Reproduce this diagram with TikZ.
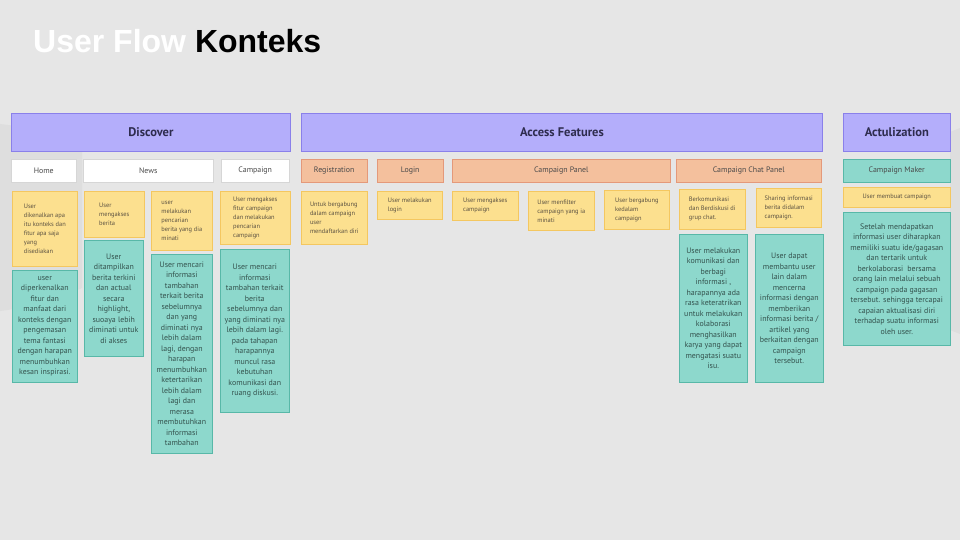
\documentclass[tikz,border=0pt]{standalone}
\usepackage{fontspec}
\setmainfont{PT Sans}
\newfontfamily\titlefont{Liberation Sans}
\usetikzlibrary{positioning}

\definecolor{bgcol}{HTML}{E6E6E6}
\definecolor{bgshade}{HTML}{DEDEDE}
\definecolor{hdrfill}{HTML}{B4AEFB}
\definecolor{hdrline}{HTML}{8A80EA}
\definecolor{hdrtext}{HTML}{2E2C4E}
\definecolor{tabline}{HTML}{D6D6D6}
\definecolor{tabtext}{HTML}{4A4A4A}
\definecolor{featfill}{HTML}{F4C09D}
\definecolor{featline}{HTML}{E4997A}
\definecolor{notefill}{HTML}{FCE08F}
\definecolor{noteline}{HTML}{F4C760}
\definecolor{notetext}{HTML}{5C5242}
\definecolor{descfill}{HTML}{8DD8CC}
\definecolor{descline}{HTML}{58B8A8}
\definecolor{desctext}{HTML}{34524D}

\begin{document}
\begin{tikzpicture}[
  x=1pt, y=-1pt,
  hdr/.style={draw=hdrline, fill=hdrfill, line width=0.8pt, anchor=north west, inner sep=0pt, minimum height=38, font=\fontsize{12.5}{14}\selectfont\bfseries, text=hdrtext},
  tab/.style={draw=tabline, fill=white, line width=0.5pt, anchor=north west, inner sep=0pt, minimum height=23, font=\fontsize{7.9}{9}\selectfont, text=tabtext},
  feat/.style={tab, draw=featline, fill=featfill},
  maker/.style={tab, draw=descline, fill=descfill},
  note/.style={draw=noteline, fill=notefill, line width=0.6pt, anchor=north west, inner sep=0pt, align=left, font=\fontsize{6.4}{9}\selectfont, text=notetext},
  desc/.style={draw=descline, fill=descfill, line width=0.6pt, anchor=north west, inner sep=0pt, align=center, font=\fontsize{7.9}{10.5}\selectfont, text=desctext}
]
\fill[bgcol] (0,0) rectangle (960,540);
\useasboundingbox (0,0) rectangle (960,540);
% faint slide decoration
\fill[bgshade] (0,124) .. controls (35,128) and (70,138) .. (82,150) -- (82,288) .. controls (55,300) and (25,308) .. (0,311) -- cycle;
\fill[bgshade] (950,132) -- (960,128) -- (960,334) -- (950,330) -- cycle;

% --- title ---
\node[anchor=base west, inner sep=0pt, font=\titlefont\fontsize{32}{36}\selectfont\bfseries] (title) at (33,53)
  {\textcolor{white}{User Flow} Konteks};

% --- phase headers ---
\node[hdr, minimum width=279] (discover) at (11,113)  {Discover};
\node[hdr, minimum width=521] (access)   at (301,113) {Access Features};
\node[hdr, minimum width=107] (actual)   at (843,113) {Actulization};

% --- pages ---
\node[tab, minimum width=65]   (home)      at (11,159)  {Home};
\node[tab, minimum width=130]  (news)      at (83,159)  {News};
\node[tab, minimum width=68]   (campaign)  at (221,159) {Campaign};
\node[feat, minimum width=66]  (regist)    at (301,159) {Registration};
\node[feat, minimum width=66]  (login)     at (377,159) {Login};
\node[feat, minimum width=218] (cpanel)    at (452,159) {Campaign Panel};
\node[feat, minimum width=145] (chatpanel) at (676,159) {Campaign Chat Panel};
\node[maker, minimum width=107] (cmaker)   at (843,159) {Campaign Maker};

% --- user actions ---
\node[note, minimum width=65, minimum height=75] (homeN) at (12,191)
  {User\\dikenalkan apa\\itu konteks dan\\fitur apa saja\\yang\\disediakan};
\node[note, minimum width=60, minimum height=46] (newsN1) at (84,191)
  {User\\mengakses\\berita};
\node[note, minimum width=61, minimum height=59] (newsN2) at (151,191)
  {user\\melakukan\\pencarian\\berita yang dia\\minati};
\node[note, minimum width=70, minimum height=53] (campN) at (220,191)
  {User mengakses\\fitur campaign\\dan melakukan\\pencarian\\campaign};
\node[note, minimum width=66, minimum height=53] (registN) at (301,191)
  {Untuk bergabung\\dalam campaign\\user\\mendaftarkan diri};
\node[note, minimum width=65, minimum height=28] (loginN) at (377,191)
  {User melakukan\\login};
\node[note, minimum width=66, minimum height=29] (cpanelN1) at (452,191)
  {User mengakses\\campaign};
\node[note, minimum width=66, minimum height=39] (cpanelN2) at (528,191)
  {User menfilter\\campaign yang ia\\minati};
\node[note, minimum width=65, minimum height=39] (cpanelN3) at (604,190)
  {User bergabung\\kedalam\\campaign};
\node[note, minimum width=66, minimum height=40] (chatN1) at (679,189)
  {Berkomunikasi\\dan Berdiskusi di\\grup chat.};
\node[note, minimum width=65, minimum height=39] (chatN2) at (756,188)
  {Sharing informasi\\berita didalam\\campaign.};
\node[note, align=center, minimum width=107, minimum height=20] (cmakerN) at (843,187)
  {User membuat campaign};

% --- expected experience ---
\node[desc, minimum width=65, minimum height=112] (homeD) at (12,270)
  {user\\diperkenalkan\\fitur dan\\manfaat dari\\konteks dengan\\pengemasan\\tema fantasi\\dengan harapan\\menumbuhkan\\kesan inspirasi.};
\node[desc, minimum width=59, minimum height=116] (newsD1) at (84,240)
  {User\\ditampilkan\\berita terkini\\dan actual\\secara\\highlight,\\suoaya lebih\\diminati untuk\\di akses};
\node[desc, minimum width=61, minimum height=199] (newsD2) at (151,254)
  {User mencari\\informasi\\tambahan\\terkait berita\\sebelumnya\\dan yang\\diminati nya\\lebih dalam\\lagi, dengan\\harapan\\menumbuhkan\\ketertarikan\\lebih dalam\\lagi dan\\merasa\\membutuhkan\\informasi\\tambahan};
\node[desc, minimum width=69, minimum height=163] (campD) at (220,249)
  {User mencari\\informasi\\tambahan terkait\\berita\\sebelumnya dan\\yang diminati nya\\lebih dalam lagi.\\pada tahapan\\harapannya\\muncul rasa\\kebutuhan\\komunikasi dan\\ruang diskusi.};
\node[desc, minimum width=68, minimum height=148] (chatD1) at (679,234)
  {User melakukan\\komunikasi dan\\berbagi\\informasi ,\\harapannya ada\\rasa keteratrikan\\untuk melakukan\\kolaborasi\\menghasilkan\\karya yang dapat\\mengatasi suatu\\isu.};
\node[desc, minimum width=68, minimum height=148] (chatD2) at (755,234)
  {User dapat\\membantu user\\lain dalam\\mencerna\\informasi dengan\\memberikan\\informasi berita /\\artikel yang\\berkaitan dengan\\campaign\\tersebut.};
\node[desc, minimum width=107, minimum height=133] (cmakerD) at (843,212)
  {Setelah mendapatkan\\informasi user diharapkan\\memiliki suatu ide/gagasan\\dan tertarik untuk\\berkolaborasi\ \ bersama\\orang lain melalui sebuah\\campaign pada gagasan\\tersebut. sehingga tercapai\\capaian aktualisasi diri\\terhadap suatu informasi\\oleh user.};
\end{tikzpicture}
\end{document}
